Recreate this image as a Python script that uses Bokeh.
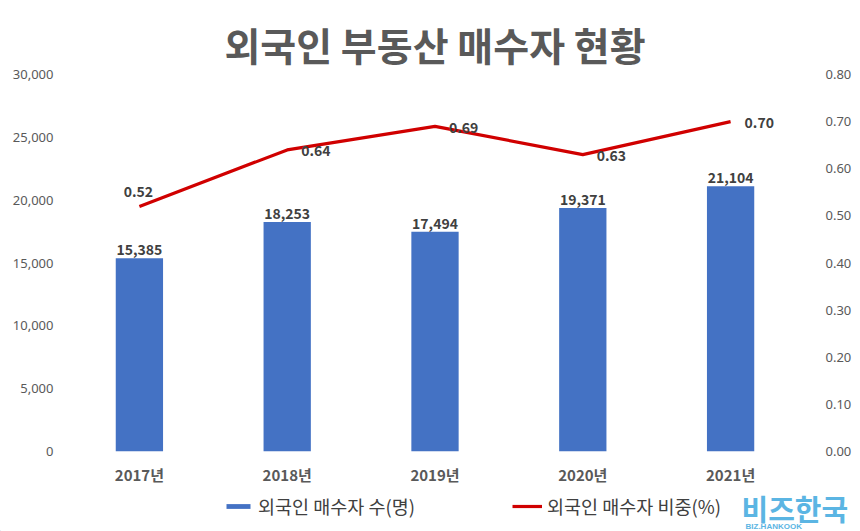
from bokeh.plotting import figure
from bokeh.layouts import column, row
from bokeh.models import (Range1d, LinearAxis, NumeralTickFormatter, SingleIntervalTicker,
                          ColumnDataSource, LabelSet, Legend, LegendItem, Label, FactorRange)
from bokeh.core.properties import value
from bokeh.embed import file_html
from bokeh.resources import INLINE

years = ["2017년", "2018년", "2019년", "2020년", "2021년"]
buyers = [15385, 18253, 17494, 19371, 21104]
share = [0.52, 0.64, 0.69, 0.63, 0.70]

title = "외국인 부동산 매수자 현황"
bar_name = "외국인 매수자 수(명)"
line_name = "외국인 매수자 비중(%)"
brand = "비즈한국"
brand_sub = "BIZ.HANKOOK"

KR = "Noto Sans CJK KR"
BAR_COLOR = "#4472C4"
LINE_COLOR = "#D00000"

src = ColumnDataSource(dict(
    x=years, buyers=buyers, share=share,
    blab=[f"{v:,}" for v in buyers],
))

p = figure(width=860, height=487, x_range=FactorRange(*years), y_range=Range1d(0, 30000),
           output_backend="svg", toolbar_location=None,
           min_border_left=65, min_border_right=56, min_border_top=74, min_border_bottom=30)
p.outline_line_color = None
p.xgrid.grid_line_color = None
p.ygrid.grid_line_color = None

p.title.text = title
p.title.align = "center"
p.title.text_font = KR
p.title.text_font_size = "39px"
p.title.text_font_style = "bold"
p.title.text_color = "#595959"
p.title.standoff = 6

p.extra_y_ranges = {"pct": Range1d(0, 0.8)}

bars = p.vbar(x="x", top="buyers", width=0.32, source=src, fill_color=BAR_COLOR, line_color=None)
line = p.line(x="x", y="share", source=src, y_range_name="pct", line_color=LINE_COLOR, line_width=3.2)

# axes
ly = p.yaxis[0]
ly.ticker = SingleIntervalTicker(interval=5000)
ly.formatter = NumeralTickFormatter(format="0,0")
ry = LinearAxis(y_range_name="pct", ticker=SingleIntervalTicker(interval=0.1),
                formatter=NumeralTickFormatter(format="0.00"))
p.add_layout(ry, "right")
for ax in (ly, ry):
    ax.axis_line_color = None
    ax.major_tick_line_color = None
    ax.minor_tick_line_color = None
    ax.major_label_text_font = "Noto Sans"
    ax.major_label_text_font_size = "13px"
    ax.major_label_text_color = "#595959"
ly.major_label_standoff = 6
ry.major_label_standoff = 15

xa = p.xaxis[0]
xa.axis_line_color = None
xa.major_tick_line_color = None
xa.major_label_text_font = KR
xa.major_label_text_font_size = "15px"
xa.major_label_text_font_style = "bold"
xa.major_label_text_color = "#595959"
xa.major_label_standoff = 6

# data labels
p.add_layout(LabelSet(x="x", y="buyers", text="blab", source=src, text_align="center",
                      text_baseline="bottom", y_offset=3, text_font=value(KR),
                      text_font_size="14px", text_font_style="bold", text_color="#404040"))

first = ColumnDataSource(dict(x=years[:1], share=share[:1], slab=[f"{share[0]:.2f}"]))
rest = ColumnDataSource(dict(x=years[1:], share=share[1:], slab=[f"{v:.2f}" for v in share[1:]]))
p.add_layout(LabelSet(x="x", y="share", text="slab", source=first, y_range_name="pct",
                      text_align="center", text_baseline="middle", x_offset=-1, y_offset=15,
                      text_font=value(KR), text_font_size="14px", text_font_style="bold",
                      text_color="#404040"))
p.add_layout(LabelSet(x="x", y="share", text="slab", source=rest, y_range_name="pct",
                      text_align="left", text_baseline="middle", x_offset=14, y_offset=-1,
                      text_font=value(KR), text_font_size="14px", text_font_style="bold",
                      text_color="#404040"))

# legend + watermark strip
q = figure(width=860, height=44, x_range=Range1d(0, 860), y_range=Range1d(0, 44),
           output_backend="svg", toolbar_location=None, x_axis_location=None,
           y_axis_location=None, min_border=0, min_border_left=0, min_border_right=0,
           min_border_top=0, min_border_bottom=0)
q.outline_line_color = None
q.xgrid.grid_line_color = None
q.ygrid.grid_line_color = None
# legend key renderers (kept off-screen; only their styles are used by the legend)
kb = q.vbar(x=[-100], top=[1], width=1, fill_color=BAR_COLOR, line_color=None)
kl = q.line(x=[-200, -100], y=[1, 1], line_color=LINE_COLOR, line_width=3.2)

legend = Legend(items=[LegendItem(label=bar_name, renderers=[kb]),
                       LegendItem(label=line_name, renderers=[kl])],
                orientation="horizontal", location=(223, 12), spacing=97,
                glyph_width=30, glyph_height=6, label_standoff=5,
                label_text_font=KR, label_text_font_size="18.5px", label_text_color="#404040",
                border_line_color=None, background_fill_alpha=0, padding=2, margin=0)
q.add_layout(legend, "center")

q.add_layout(Label(x=741, y=3, x_units="screen", y_units="screen", text=brand,
                   text_font=KR, text_font_size="29px", text_font_style="bold",
                   text_color="#5BB5E3"))
q.add_layout(Label(x=745, y=1, x_units="screen", y_units="screen", text=brand_sub,
                   text_font="Liberation Sans", text_font_size="8px", text_font_style="bold",
                   text_color="#5BB5E3"))

open("out.html", "w").write(file_html(column(p, row(q), spacing=0), INLINE))
